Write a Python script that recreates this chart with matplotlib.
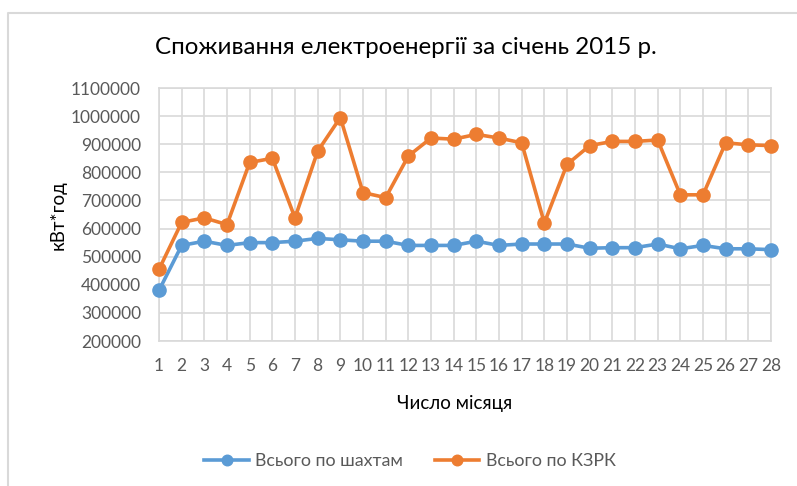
import numpy as np
import matplotlib.pyplot as plt
from matplotlib.lines import Line2D

# day of month
days = np.arange(1, 29)

# Всього по шахтам
mines = [380000, 540000, 555000, 540000, 550000, 550000, 555000, 565000, 560000, 555000,
         555000, 540000, 540000, 540000, 555000, 540000, 545000, 545000, 545000, 530000,
         532000, 532000, 545000, 528000, 540000, 528000, 528000, 525000]

# Всього по КЗРК
kzrk = [455000, 622000, 638000, 614000, 835000, 850000, 638000, 875000, 995000, 728000,
        710000, 858000, 922000, 918000, 935000, 922000, 905000, 620000, 828000, 895000,
        910000, 910000, 915000, 720000, 720000, 905000, 898000, 895000]

yticks = np.arange(200000, 1100001, 100000)

plt.rcParams['font.family'] = ['Lato', 'DejaVu Sans']

fig = plt.figure(figsize=(7.97, 4.86), dpi=100)
ax = fig.add_axes([159/797, 1 - 341/486, (771 - 159)/797, (341 - 88)/486])

blue = '#5B9BD5'
orange = '#ED7D31'

ax.plot(days, mines, color=blue, lw=2.6, marker='o', ms=9.5, label='Всього по шахтам',
        zorder=3, clip_on=False)
ax.plot(days, kzrk, color=orange, lw=2.6, marker='o', ms=9.5, label='Всього по КЗРК',
        zorder=3, clip_on=False)

ax.set_xlim(1, 28)
ax.set_ylim(200000, 1100000)
ax.set_xticks(days)
ax.set_yticks(yticks)
ax.set_yticklabels([str(v) for v in yticks])
ax.tick_params(axis='both', length=0, labelsize=12.5, labelcolor='#595959')
ax.tick_params(axis='y', pad=13)
ax.tick_params(axis='x', pad=12)
ax.grid(True, color='#D9D9D9', lw=1.2)
ax.set_axisbelow(True)
for s in ax.spines.values():
    s.set_color('#D9D9D9')
    s.set_linewidth(1.2)

fig.text(406/797, 1 - 47/486, 'Споживання електроенергії за січень 2015 р.',
         ha='center', va='center', fontsize=17.4, color='#000000')
fig.text(58/797, 1 - 215/486, 'кВт*год', rotation=90, ha='center', va='center',
         fontsize=13.5, color='#000000')
fig.text(455/797, 1 - 403/486, 'Число місяця', ha='center', va='center',
         fontsize=13.5, color='#000000')

fig.legend(loc='center', bbox_to_anchor=(410/797, 1 - 461/486), ncol=2, frameon=False,
           fontsize=12.8, labelcolor='#595959', handlelength=2.5, columnspacing=1.8,
           handletextpad=0.35, markerscale=0.8)

# chart frame (top and left edges visible)
fig.add_artist(Line2D([8/797, 8/797, 1.0], [0.0, 1 - 13/486, 1 - 13/486],
                      transform=fig.transFigure, color='#D9D9D9', lw=1.5))

fig.savefig('out.png', dpi=100)
